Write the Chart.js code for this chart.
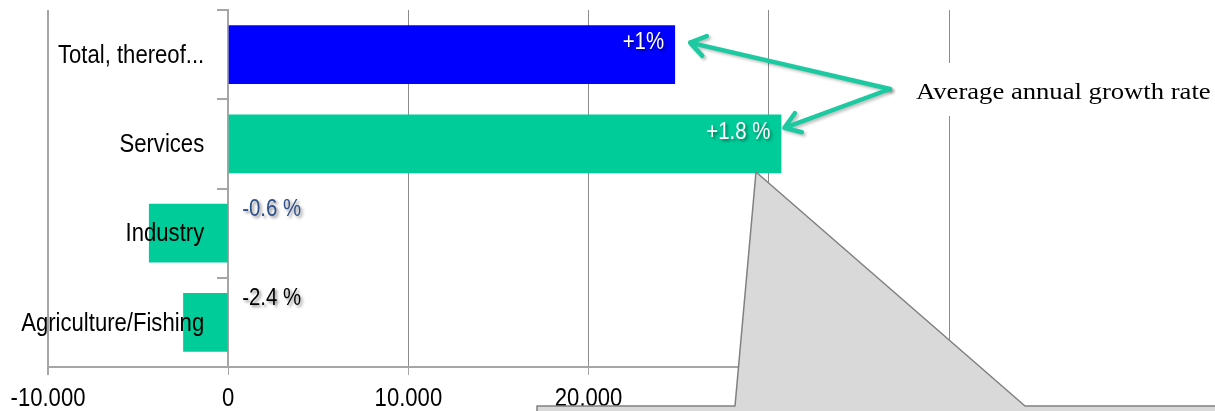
<!DOCTYPE html>
<html lang="en">
<head>
    <meta charset="UTF-8">
    <title>Employment by sector</title>
    <script src="https://cdn.jsdelivr.net/npm/chart.js"></script>
    <style>
        body { margin: 0; background: #fff; }
        canvas { display: block; }
    </style>
</head>
<body>

<canvas id="barChart" width="1215" height="411"></canvas>

<script>
    // Chart data
    const categories = ['Total, thereof...', 'Services', 'Industry', 'Agriculture/Fishing'];
    const changeValues = [24800, 30700, -4400, -2500];
    const growthLabels = ['+1%', '+1.8 %', '-0.6 %', '-2.4 %'];
    const growthColors = ['#ffffff', '#ffffff', '#2f5088', '#000000'];
    const barColors = ['#0000ff', '#00cc99', '#00cc99', '#00cc99'];
    const xTicks = [-10000, 0, 10000, 20000, 30000, 40000];
    const noteText = 'Average annual growth rate';

    const sans = "'Liberation Sans', Arial, sans-serif";
    const squeeze = 0.85; // the original labels look like a narrow Arial

    function formatThousands(v) {
        const s = Math.abs(v).toString().replace(/\B(?=(\d{3})+(?!\d))/g, '.');
        return (v < 0 ? '-' : '') + s;
    }

    // text squeezed horizontally around its anchor point
    function narrowText(ctx, text, x, y, align) {
        ctx.save();
        ctx.translate(x, y);
        ctx.scale(squeeze, 1);
        ctx.textAlign = align;
        ctx.fillText(text, 0, 0);
        ctx.restore();
    }

    // axis labels and value labels, drawn over the bars
    const labelPlugin = {
        id: 'labels',
        afterDatasetsDraw(chart) {
            const ctx = chart.ctx;
            const xs = chart.scales.x, ys = chart.scales.y;
            const zero = xs.getPixelForValue(0);
            ctx.save();
            ctx.fillStyle = '#000';
            ctx.textBaseline = 'middle';
            ctx.font = '26px ' + sans;
            categories.forEach((c, i) => {
                narrowText(ctx, c, zero - 24, ys.getPixelForValue(i) + 1, 'right');
            });
            xTicks.forEach((v) => {
                narrowText(ctx, formatThousands(v), xs.getPixelForValue(v), 399, 'center');
            });

            const meta = chart.getDatasetMeta(0);
            ctx.font = '24px ' + sans;
            ctx.shadowColor = 'rgba(0,0,0,0.45)';
            ctx.shadowOffsetX = 2;
            ctx.shadowOffsetY = 2;
            ctx.shadowBlur = 3;
            meta.data.forEach((bar, i) => {
                ctx.fillStyle = growthColors[i];
                if (changeValues[i] >= 0) {
                    narrowText(ctx, growthLabels[i], bar.x - 11, bar.y - 12, 'right');
                } else {
                    narrowText(ctx, growthLabels[i], zero + 14, bar.y - 24, 'left');
                }
            });
            ctx.restore();
        }
    };

    function drawArrow(ctx, x0, y0, x1, y1) {
        const ang = Math.atan2(y1 - y0, x1 - x0);
        const head = 18;
        ctx.beginPath();
        ctx.moveTo(x0, y0);
        ctx.lineTo(x1, y1);
        ctx.moveTo(x1 - head * Math.cos(ang - 0.6), y1 - head * Math.sin(ang - 0.6));
        ctx.lineTo(x1, y1);
        ctx.lineTo(x1 - head * Math.cos(ang + 0.6), y1 - head * Math.sin(ang + 0.6));
        ctx.stroke();
    }

    // note, arrows and the grey callout shape
    const notePlugin = {
        id: 'note',
        afterDraw(chart) {
            const ctx = chart.ctx;
            const meta = chart.getDatasetMeta(0);
            ctx.save();

            // white box behind the note text
            ctx.fillStyle = '#ffffff';
            ctx.fillRect(905, 63, 310, 53);
            ctx.save();
            ctx.font = '24px "Liberation Serif", serif';
            ctx.fillStyle = '#000';
            ctx.textBaseline = 'alphabetic';
            ctx.translate(916, 99);
            ctx.scale(1.11, 1);
            ctx.fillText(noteText, 0, 0);
            ctx.restore();

            ctx.strokeStyle = '#1dc9a0';
            ctx.lineWidth = 4.5;
            ctx.lineCap = 'round';
            ctx.lineJoin = 'round';
            ctx.shadowColor = 'rgba(0,0,0,0.25)';
            ctx.shadowOffsetX = 2;
            ctx.shadowOffsetY = 2;
            ctx.shadowBlur = 3;
            const ox = 890, oy = 89;
            const b0 = meta.data[0], b1 = meta.data[1];
            drawArrow(ctx, ox, oy, b0.x + 15, b0.y - 12);
            drawArrow(ctx, ox, oy, b1.x + 3, b1.y - 16);
            ctx.shadowColor = 'transparent';

            // grey callout overlapping the axis
            ctx.beginPath();
            ctx.moveTo(537, 420);
            ctx.lineTo(537, 406);
            ctx.lineTo(735, 406);
            ctx.lineTo(756, 172);
            ctx.lineTo(1025, 406);
            ctx.lineTo(1220, 406);
            ctx.lineTo(1220, 420);
            ctx.closePath();
            ctx.fillStyle = '#d9d9d9';
            ctx.fill();
            ctx.strokeStyle = '#808080';
            ctx.lineWidth = 1.5;
            ctx.lineCap = 'butt';
            ctx.stroke();
            ctx.restore();
        }
    };

    const ctx = document.getElementById('barChart').getContext('2d');
    new Chart(ctx, {
        type: 'bar',
        data: {
            labels: categories,
            datasets: [{
                data: changeValues,
                backgroundColor: barColors,
                borderWidth: 0,
                barPercentage: 0.66,
                categoryPercentage: 1
            }]
        },
        options: {
            indexAxis: 'y',
            responsive: false,
            animation: false,
            layout: { padding: { left: 48, right: 266, top: 10, bottom: 36 } },
            plugins: {
                legend: { display: false },
                tooltip: { enabled: false }
            },
            scales: {
                x: {
                    min: -10000,
                    max: 40000,
                    afterBuildTicks: (scale) => {
                        scale.ticks = xTicks.map(v => ({ value: v }));
                    },
                    ticks: { display: false },
                    grid: {
                        color: (c) => c.index === 0 ? '#a6a6a6' : '#8c8c8c',
                        lineWidth: (c) => c.index === 0 ? 2 : 1,
                        tickLength: 8,
                        tickColor: '#a6a6a6'
                    },
                    border: { color: '#a6a6a6', width: 2 }
                },
                y: {
                    position: { x: 0 },
                    ticks: { display: false },
                    grid: {
                        drawOnChartArea: false,
                        tickLength: 10,
                        color: '#a6a6a6',
                        lineWidth: 2
                    },
                    border: { color: '#a6a6a6', width: 2 }
                }
            }
        },
        plugins: [labelPlugin, notePlugin]
    });
</script>

</body>
</html>
